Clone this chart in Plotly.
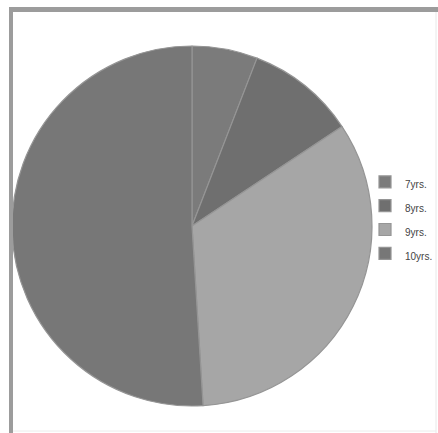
import plotly.graph_objects as go

labels = ["7yrs.", "8yrs.", "9yrs.", "10yrs."]
values = [3, 5, 17, 26]
colors = ["#7b7b7b", "#6f6f6f", "#a6a6a6", "#777777"]

W, H = 438, 433
cx, cy, r = 192, 226, 180

legend_labels = ["<span style='font-size:10px'>%s</span>" % t for t in labels]

fig = go.Figure(go.Pie(
    labels=legend_labels,
    values=values,
    sort=False,
    direction="clockwise",
    rotation=0,
    textinfo="none",
    hoverinfo="label+value",
    marker=dict(colors=colors, line=dict(color="#959595", width=1.2)),
    domain=dict(x=[(cx - r) / W, (cx + r) / W],
                y=[1 - (cy + r) / H, 1 - (cy - r) / H]),
))

shapes = [
    dict(type="rect", xref="paper", yref="paper", x0=9 / W, x1=13 / W, y0=0, y1=1 - 7 / H,
         fillcolor="#9c9c9c", line=dict(width=0), layer="above"),
    dict(type="rect", xref="paper", yref="paper", x0=9 / W, x1=1, y0=1 - 12 / H, y1=1 - 7 / H,
         fillcolor="#9c9c9c", line=dict(width=0), layer="above"),
    dict(type="line", xref="paper", yref="paper", x0=436 / W, x1=436 / W, y0=0, y1=1 - 12 / H,
         line=dict(color="#e8e8e8", width=1)),
    dict(type="line", xref="paper", yref="paper", x0=13 / W, x1=436 / W, y0=2 / H, y1=2 / H,
         line=dict(color="#ececec", width=1)),
]

fig.update_layout(
    width=W, height=H,
    margin=dict(l=0, r=0, t=0, b=0),
    paper_bgcolor="white",
    plot_bgcolor="white",
    shapes=shapes,
    showlegend=True,
    legend=dict(
        x=365 / W, xanchor="left",
        y=1 - 165 / H, yanchor="top",
        font=dict(family="Liberation Sans, Arial, sans-serif", size=16, color="#444444"),
        bgcolor="rgba(0,0,0,0)",
        itemwidth=30,
    ),
)

fig.write_html("out.html")
